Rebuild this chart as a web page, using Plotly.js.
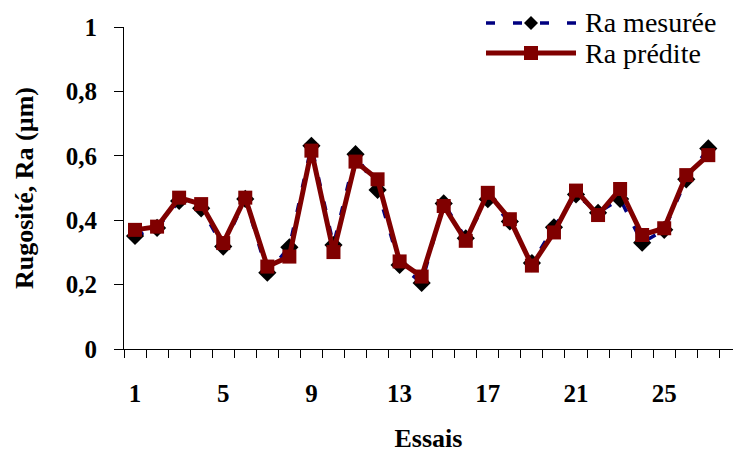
<!DOCTYPE html>
<html>
<head>
<meta charset="utf-8">
<script src="https://cdn.plot.ly/plotly-3.0.1.min.js"></script>
<style>html,body{margin:0;padding:0;background:#fff;}#chart{width:734px;height:453px;}</style>
</head>
<body>
<div id="chart"></div>
<script>
const essais = [1,2,3,4,5,6,7,8,9,10,11,12,13,14,15,16,17,18,19,20,21,22,23,24,25,26,27];
const raMesuree = [0.351,0.376,0.46,0.437,0.318,0.466,0.237,0.316,0.631,0.323,0.605,0.494,0.261,0.205,0.452,0.344,0.465,0.396,0.267,0.378,0.48,0.423,0.466,0.330,0.370,0.527,0.623];
const raPredite = [0.370,0.380,0.470,0.450,0.329,0.470,0.256,0.287,0.616,0.301,0.582,0.527,0.272,0.225,0.444,0.336,0.485,0.403,0.259,0.362,0.492,0.416,0.497,0.354,0.375,0.540,0.602];
const seriesNames = ['Ra mesurée', 'Ra prédite'];
const xTickVals = [1,5,9,13,17,21,25];
const yTickVals = [0,0.2,0.4,0.6,0.8,1];
const yTickText = ['0','0,2','0,4','0,6','0,8','1'];

const serif = 'Liberation Serif';
const M = {l: 124, r: 1, t: 27, b: 104};
const W = 734, H = 453;
const plotW = W - M.l - M.r;
const plotH = H - M.t - M.b;
const px = v => (v - M.l) / plotW;          // pixel x -> paper x
const py = v => (H - M.b - v) / plotH;      // pixel y -> paper y

const styles = [
  {line: {color: '#000080', width: 3.5, dash: '9px,16px'}, marker: {symbol: 'diamond', color: '#000000', size: 14}},
  {line: {color: '#800000', width: 5}, marker: {symbol: 'square', color: '#800000', size: 14}}
];

const traces = [
  {x: essais, y: raMesuree, name: seriesNames[0], type: 'scatter', mode: 'lines+markers', showlegend: false, line: styles[0].line, marker: styles[0].marker},
  {x: essais, y: raPredite, name: seriesNames[1], type: 'scatter', mode: 'lines+markers', showlegend: false, line: styles[1].line, marker: styles[1].marker}
];

// Legend (Excel style, long sample lines) drawn as shapes + text
const legRows = [23, 53];
const lx0 = 486, lx1 = 576, lmid = 531, ltext = 583;
const shapes = [];
const annotations = [];
legRows.forEach((ry, i) => {
  const st = styles[i];
  shapes.push({type: 'line', xref: 'paper', yref: 'paper', x0: px(lx0), x1: px(lx1), y0: py(ry), y1: py(ry),
               line: {color: st.line.color, width: st.line.width, dash: i === 0 ? '9px,18px' : 'solid'}});
  const h = 7;
  const path = i === 0
    ? `M ${px(lmid - h)} ${py(ry)} L ${px(lmid)} ${py(ry - h)} L ${px(lmid + h)} ${py(ry)} L ${px(lmid)} ${py(ry + h)} Z`
    : `M ${px(lmid - h)} ${py(ry - h)} L ${px(lmid + h)} ${py(ry - h)} L ${px(lmid + h)} ${py(ry + h)} L ${px(lmid - h)} ${py(ry + h)} Z`;
  shapes.push({type: 'path', xref: 'paper', yref: 'paper', path: path,
               fillcolor: st.marker.color, line: {color: st.marker.color, width: 0}});
  annotations.push({xref: 'paper', yref: 'paper', x: px(ltext), y: py(ry), xanchor: 'left', yanchor: 'middle',
                    showarrow: false, text: seriesNames[i], font: {family: serif, size: 28, color: '#000'}});
});

const layout = {
  width: W, height: H,
  margin: M,
  paper_bgcolor: '#ffffff', plot_bgcolor: '#ffffff',
  font: {family: serif, color: '#000000'},
  showlegend: false,
  shapes: shapes,
  annotations: annotations,
  xaxis: {
    range: [0.5, 28.12],
    tickvals: xTickVals, ticktext: xTickVals.map(String),
    ticks: '', ticklabelstandoff: 22,
    tickfont: {family: serif, size: 25, color: '#000', weight: 'bold'},
    showgrid: false, zeroline: false,
    showline: true, linecolor: '#000', linewidth: 1,
    minor: {ticks: 'outside', tick0: 0.5, dtick: 1, ticklen: 8, tickcolor: '#000', tickwidth: 1, showgrid: false},
    title: {text: 'Essais', font: {family: serif, size: 26, color: '#000', weight: 'bold'}, standoff: 35},
    fixedrange: true
  },
  yaxis: {
    range: [0, 1],
    tickvals: yTickVals, ticktext: yTickText,
    ticks: 'outside', ticklen: 9, tickcolor: '#000', tickwidth: 1,
    ticklabelstandoff: 12,
    tickfont: {family: serif, size: 25, color: '#000', weight: 'bold'},
    showgrid: false, zeroline: false,
    showline: true, linecolor: '#000', linewidth: 1,
    title: {text: 'Rugosité, Ra (µm)', font: {family: serif, size: 26, color: '#000', weight: 'bold'}, standoff: 24},
    fixedrange: true
  }
};

Plotly.newPlot('chart', traces, layout, {staticPlot: true, displayModeBar: false});
</script>
</body>
</html>
